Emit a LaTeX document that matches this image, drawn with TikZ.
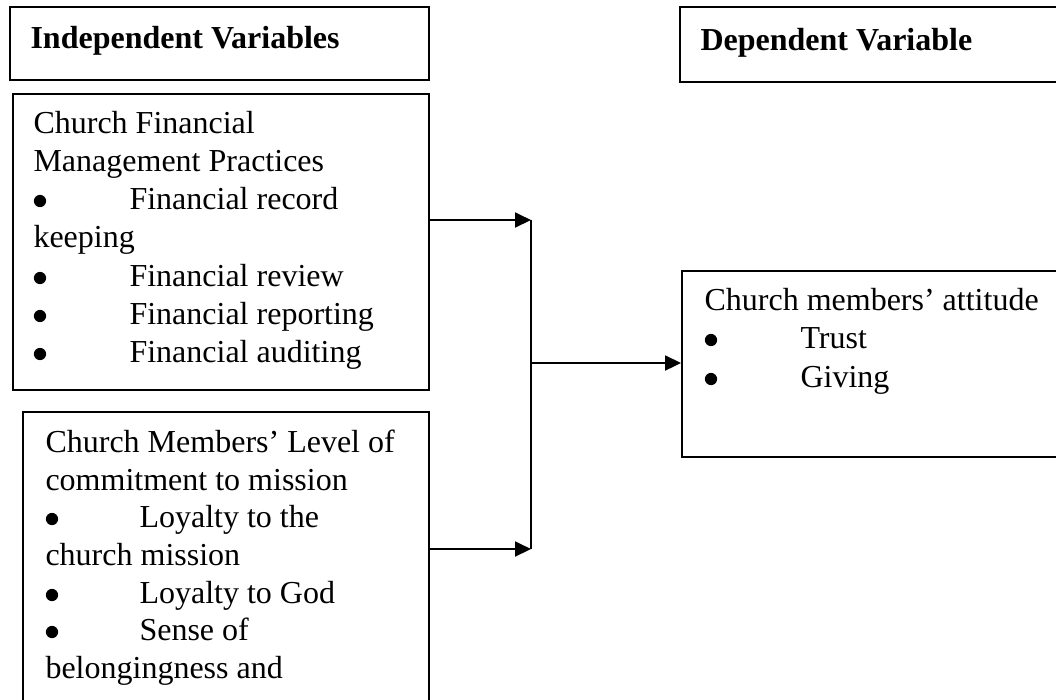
\documentclass[tikz,border=0pt]{standalone}
\usepackage{fontspec}
\setmainfont{Liberation Serif}
\usetikzlibrary{arrows.meta,fit}
\tikzset{
  box/.style={draw=black, line width=0.7pt, inner sep=0pt, rectangle},
  txt/.style={anchor=base west, inner sep=0pt, font=\fontsize{12}{14}\selectfont},
  btxt/.style={txt, font=\fontsize{12}{14}\selectfont\bfseries},
  bul/.style={circle, fill=black, inner sep=0pt, minimum size=4.6pt},
  conn/.style={line width=0.8pt, draw=black},
  arr/.style={conn, -{Triangle[length=6pt, width=5.6pt]}}
}
\begin{document}
\begin{tikzpicture}[x=0.375pt, y=-0.375pt]
\useasboundingbox (0,0) rectangle (1056,699);
\clip (0,0) rectangle (1056,699);
\fill[white] (0,0) rectangle (1056,699);

% boxes
\node[box, fit={(10,7) (429,80)}] (indep) {};
\node[box, fit={(13,94) (429,390)}] (fin) {};
\node[box, fit={(23,412) (429,730)}] (mem) {};
\node[box, fit={(680,7) (1090,82)}] (dep) {};
\node[box, fit={(682,271) (1090,457)}] (att) {};

% headings
\node[btxt] (t1) at (30,48) {Independent Variables};
\node[btxt] (t2) at (700,50) {Dependent Variable};

% financial box
\node[txt] (f1) at (33,133) {Church Financial};
\node[txt] (f2) at (33,171) {Management Practices};
\node[bul] (f3b) at (40,201) {};
\node[txt] (f3) at (129,209) {Financial record};
\node[txt] (f4) at (33,247) {keeping};
\node[bul] (f5b) at (40,278) {};
\node[txt] (f5) at (129,286) {Financial review};
\node[bul] (f6b) at (40,316) {};
\node[txt] (f6) at (129,324) {Financial reporting};
\node[bul] (f7b) at (40,354) {};
\node[txt] (f7) at (129,362) {Financial auditing};

% members box
\node[txt] (m1) at (45,452) {Church Members’ Level of};
\node[txt] (m2) at (45,490) {commitment to mission};
\node[bul] (m3b) at (52,519) {};
\node[txt] (m3) at (139,527) {Loyalty to the};
\node[txt] (m4) at (45,565) {church mission};
\node[bul] (m5b) at (52,595) {};
\node[txt] (m5) at (139,603) {Loyalty to God};
\node[bul] (m6b) at (52,632) {};
\node[txt] (m6) at (139,640) {Sense of};
\node[txt] (m7) at (45,678) {belongingness and};

% attitude box
\node[txt] (a1) at (704,310) {Church members’ attitude};
\node[bul] (a2b) at (711,340) {};
\node[txt] (a2) at (800,348) {Trust};
\node[bul] (a3b) at (711,379) {};
\node[txt] (a3) at (800,387) {Giving};

% connectors
\coordinate (j1) at (531,220);
\coordinate (j2) at (531,549);
\coordinate (jm) at (531,363);
\draw[conn] (j1) -- (j2);
\draw[arr] (fin.east |- j1) -- (j1);
\draw[arr] (mem.east |- j2) -- (j2);
\draw[arr] (jm) -- (att.west |- jm);
\end{tikzpicture}
\end{document}
